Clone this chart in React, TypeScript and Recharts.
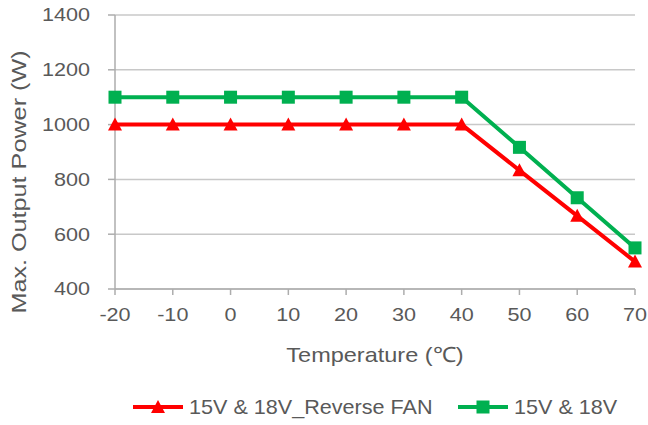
import React from 'react';
import { LineChart, Line, XAxis, YAxis, CartesianGrid, Legend } from 'recharts';

const temperatures = [-20, -10, 0, 10, 20, 30, 40, 50, 60, 70];
const reverseFanPower = [1000, 1000, 1000, 1000, 1000, 1000, 1000, 833, 667, 500];
const standardPower = [1100, 1100, 1100, 1100, 1100, 1100, 1100, 917, 733, 550];
const yTicks = [400, 600, 800, 1000, 1200, 1400];
const seriesNames = ['15V & 18V_Reverse FAN', '15V & 18V'];
const seriesColors = ['#FF0000', '#00B050'];
const xTitle = 'Temperature (℃)';
const yTitle = 'Max. Output Power (W)';

const data = temperatures.map((t, i) => ({ t, a: reverseFanPower[i], b: standardPower[i] }));

const FONT = '"Liberation Sans", Arial, sans-serif';
const TEXT = '#595959';
const AXIS = '#ADADAD';
const GRID = '#C8C8C8';

function YTick(props: any) {
  const { x, y, payload } = props;
  return (
    <text transform={`translate(${x},${y}) scale(1.2,1)`} textAnchor="end" dy="0.36em"
      fontSize={18} fontFamily={FONT} fill={TEXT}>{payload.value}</text>
  );
}

function XTick(props: any) {
  const { x, y, payload } = props;
  return (
    <text transform={`translate(${x},${y + 24}) scale(1.2,1)`} textAnchor="middle"
      fontSize={18} fontFamily={FONT} fill={TEXT}>{payload.value}</text>
  );
}

function YLabel(props: any) {
  const vb = props.viewBox || { x: 0, y: 15, width: 115, height: 274 };
  const cy = vb.y + vb.height / 2 + 30;
  return (
    <text transform={`translate(26,${cy}) rotate(-90) scale(1.2,1)`} textAnchor="middle"
      fontSize={21} fontFamily={FONT} fill={TEXT}>{yTitle}</text>
  );
}

function XLabel(props: any) {
  const vb = props.viewBox || { x: 115, y: 289, width: 520, height: 100 };
  const cx = vb.x + vb.width / 2;
  return (
    <text transform={`translate(${cx},362) scale(1.12,1)`} textAnchor="middle"
      fontSize={21} fontFamily={FONT} fill={TEXT}>{xTitle}</text>
  );
}

function Triangle(props: any) {
  const { cx, cy } = props;
  if (cx == null || cy == null) return null;
  return <path d={`M${cx},${cy - 7} L${cx + 7},${cy + 6} L${cx - 7},${cy + 6} Z`} fill={seriesColors[0]} />;
}

function Square(props: any) {
  const { cx, cy } = props;
  if (cx == null || cy == null) return null;
  return <rect x={cx - 6.5} y={cy - 6.5} width={13} height={13} fill={seriesColors[1]} />;
}

function LegendContent() {
  const items = [
    { x0: 133, name: seriesNames[0], color: seriesColors[0], tri: true },
    { x0: 458, name: seriesNames[1], color: seriesColors[1], tri: false },
  ];
  return (
    <div style={{ width: 648, height: 35 }}>
      <svg width={648} height={35}>
        {items.map((it) => {
          const cy = 17;
          const mx = it.x0 + 25;
          return (
            <g key={it.name}>
              <line x1={it.x0} x2={it.x0 + 50} y1={cy} y2={cy} stroke={it.color} strokeWidth={4} />
              {it.tri ? (
                <path d={`M${mx},${cy - 7} L${mx + 7},${cy + 6} L${mx - 7},${cy + 6} Z`} fill={it.color} />
              ) : (
                <rect x={mx - 6.5} y={cy - 6.5} width={13} height={13} fill={it.color} />
              )}
              <text transform={`translate(${it.x0 + 56},${cy + 7}) scale(1.08,1)`} fontSize={20}
                fontFamily={FONT} fill={TEXT}>{it.name}</text>
            </g>
          );
        })}
      </svg>
    </div>
  );
}

export default function App() {
  return (
    <div style={{ position: 'absolute', left: 0, top: 0 }}>
      <LineChart width={648} height={425} data={data} margin={{ top: 15, right: 13, bottom: 0, left: 0 }}>
        <CartesianGrid vertical={false} stroke={GRID} strokeWidth={1.5} />
        <XAxis dataKey="t" type="category" height={101} stroke={AXIS} strokeWidth={1.5}
          tickSize={6} tick={<XTick />} tickLine={{ stroke: AXIS, strokeWidth: 1.5 }}
          interval={0} label={<XLabel />} />
        <YAxis domain={[400, 1400]} ticks={yTicks} width={115} stroke={AXIS} strokeWidth={1.5}
          tickSize={7} tickMargin={18} tick={<YTick />} tickLine={{ stroke: AXIS, strokeWidth: 1.5 }}
          interval={0} label={<YLabel />} />
        <Legend verticalAlign="bottom" height={35} content={<LegendContent />}
          wrapperStyle={{ left: 0, width: 648 }} />
        <Line type="linear" dataKey="a" name={seriesNames[0]} stroke={seriesColors[0]} strokeWidth={4}
          dot={<Triangle />} activeDot={false} isAnimationActive={false} />
        <Line type="linear" dataKey="b" name={seriesNames[1]} stroke={seriesColors[1]} strokeWidth={4}
          dot={<Square />} activeDot={false} isAnimationActive={false} />
      </LineChart>
    </div>
  );
}
